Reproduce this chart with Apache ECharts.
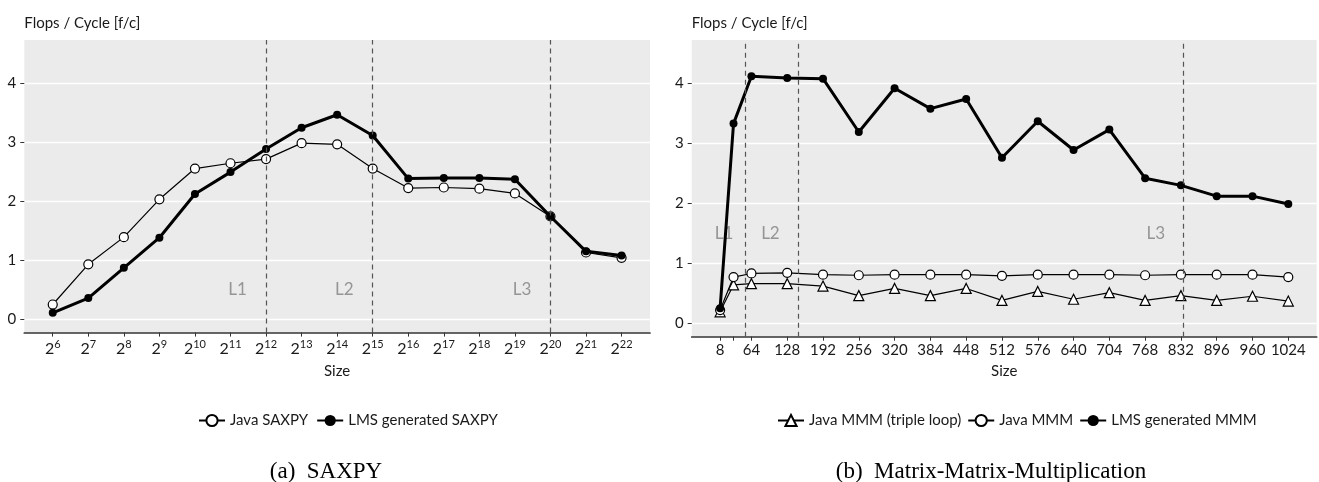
<!DOCTYPE html>
<html>
<head>
<meta charset="utf-8">
<script src="https://cdn.jsdelivr.net/npm/echarts@6/dist/echarts.min.js"></script>
<style>
  html, body { margin: 0; padding: 0; background: #fff; }
  #chart { width: 1319px; height: 482px; }
</style>
</head>
<body>
<div id="chart"></div>
<script>
// SAXPY: sizes are powers of two, stored as exponents
let saxpyExp = [6, 7, 8, 9, 10, 11, 12, 13, 14, 15, 16, 17, 18, 19, 20, 21, 22];
let javaSaxpy = [0.25, 0.93, 1.39, 2.03, 2.55, 2.64, 2.71, 2.98, 2.96, 2.55, 2.22, 2.23, 2.21, 2.13, 1.74, 1.13, 1.04];
let lmsSaxpy = [0.11, 0.36, 0.87, 1.38, 2.12, 2.49, 2.88, 3.24, 3.46, 3.11, 2.38, 2.39, 2.39, 2.37, 1.74, 1.15, 1.08];

// Matrix-Matrix-Multiplication
let mmmSizes = [8, 32, 64, 128, 192, 256, 320, 384, 448, 512, 576, 640, 704, 768, 832, 896, 960, 1024];
let mmmLabels = [8, 64, 128, 192, 256, 320, 384, 448, 512, 576, 640, 704, 768, 832, 896, 960, 1024];
let javaTriple = [0.19, 0.64, 0.66, 0.66, 0.62, 0.46, 0.58, 0.46, 0.58, 0.38, 0.53, 0.40, 0.51, 0.38, 0.46, 0.38, 0.45, 0.37];
let javaMmm = [0.22, 0.77, 0.83, 0.84, 0.81, 0.80, 0.81, 0.81, 0.81, 0.79, 0.81, 0.81, 0.81, 0.80, 0.81, 0.81, 0.81, 0.77];
let lmsMmm = [0.25, 3.33, 4.12, 4.09, 4.08, 3.19, 3.92, 3.58, 3.74, 2.76, 3.37, 2.89, 3.23, 2.42, 2.30, 2.12, 2.12, 1.99];

// cache limits
let cacheNames = ['L1', 'L2', 'L3'];
let saxpyCache = [12, 15, 20];
let saxpyCacheLabelX = [11.2, 14.2, 19.2];
let mmmCache = [52.3, 147.8, 836.1];
let mmmCacheLabelX = [15, 98, 787];

let yTicks = [0, 1, 2, 3, 4];

let font = 'Lato';
let ink = '#1a1a1a';

function pairs(xs, ys) {
    return xs.map((x, i) => [x, ys[i]]);
}

function cacheSeries(idx, lines, labelX, labelY) {
    return {
        type: 'scatter',
        xAxisIndex: idx,
        yAxisIndex: idx,
        symbolSize: 0,
        silent: true,
        z: 1,
        data: cacheNames.map((n, i) => ({ name: n, value: [labelX[i], labelY] })),
        label: {
            show: true,
            position: 'inside',
            formatter: '{b}',
            color: '#808080',
            fontFamily: font,
            fontSize: 17
        },
        markLine: {
            silent: true,
            symbol: ['none', 'none'],
            label: { show: false },
            lineStyle: { type: [5, 4], color: '#555', width: 1.2 },
            data: lines.map(v => ({ xAxis: v }))
        }
    };
}

function openLine(name, idx, data, symbol, size) {
    return {
        name: name,
        type: 'line',
        xAxisIndex: idx,
        yAxisIndex: idx,
        data: data,
        symbol: symbol,
        symbolSize: size,
        showSymbol: true,
        z: 3,
        lineStyle: { color: '#000', width: 1.2 },
        itemStyle: { color: '#fff', borderColor: '#000', borderWidth: 1.2 }
    };
}

function boldLine(name, idx, data) {
    return {
        name: name,
        type: 'line',
        xAxisIndex: idx,
        yAxisIndex: idx,
        data: data,
        symbol: 'circle',
        symbolSize: 8,
        z: 4,
        lineStyle: { color: '#000', width: 3 },
        itemStyle: { color: '#000', borderColor: '#000', borderWidth: 0 }
    };
}

function yAxisFor(idx) {
    return {
        gridIndex: idx,
        type: 'value',
        min: -0.225,
        max: 4.725,
        name: 'Flops / Cycle [f/c]',
        nameLocation: 'end',
        nameGap: 17,
        nameTextStyle: { align: 'left', verticalAlign: 'middle', fontFamily: font, fontSize: 15, color: ink },
        axisLine: { show: false, onZero: false },
        axisTick: { show: true, customValues: yTicks, length: 4, lineStyle: { color: '#333' } },
        axisLabel: { customValues: yTicks, margin: 8, fontFamily: font, fontSize: 15, color: ink },
        splitLine: { show: true, lineStyle: { color: '#fff', width: 1.3 } }
    };
}

let chart = echarts.init(document.getElementById('chart'));

let option = {
    animation: false,
    backgroundColor: '#fff',
    grid: [
        { left: 24.3, right: 669, top: 40, bottom: 149.4, show: true, backgroundColor: '#EBEBEB', borderWidth: 0 },
        { left: 691.7, right: 2.3, top: 40, bottom: 145.3, show: true, backgroundColor: '#EBEBEB', borderWidth: 0 }
    ],
    xAxis: [{
        gridIndex: 0,
        type: 'value',
        min: 5.2,
        max: 22.8,
        name: 'Size',
        nameLocation: 'middle',
        nameGap: 31,
        nameTextStyle: { fontFamily: font, fontSize: 15, color: ink },
        axisLine: { onZero: false, lineStyle: { color: '#333', width: 1.7 } },
        axisTick: { customValues: saxpyExp, length: 4, lineStyle: { color: '#333' } },
        axisLabel: {
            customValues: saxpyExp,
            margin: 6,
            formatter: v => '{b|2}{s|' + v + '}',
            rich: {
                b: { fontFamily: font, fontSize: 16, color: ink },
                s: { fontFamily: font, fontSize: 11, color: ink, padding: [0, 0, 9, 0] }
            }
        },
        splitLine: { show: false }
    }, {
        gridIndex: 1,
        type: 'value',
        min: -42.8,
        max: 1074.8,
        name: 'Size',
        nameLocation: 'middle',
        nameGap: 27,
        nameTextStyle: { fontFamily: font, fontSize: 15, color: ink },
        axisLine: { onZero: false, lineStyle: { color: '#333', width: 1.7 } },
        axisTick: { customValues: mmmSizes, length: 4, lineStyle: { color: '#333' } },
        axisLabel: { customValues: mmmLabels, margin: 6, fontFamily: font, fontSize: 15, color: ink, formatter: v => String(v) },
        splitLine: { show: false }
    }],
    yAxis: [yAxisFor(0), yAxisFor(1)],
    legend: [{
        left: 193,
        top: 408,
        itemWidth: 26,
        itemHeight: 14,
        itemGap: 8,
        textStyle: { fontFamily: font, fontSize: 15, color: ink },
        data: ['Java SAXPY', 'LMS generated SAXPY']
    }, {
        left: 772,
        top: 408,
        itemWidth: 26,
        itemHeight: 14,
        itemGap: 6,
        textStyle: { fontFamily: font, fontSize: 15, color: ink },
        data: ['Java MMM (triple loop)', 'Java MMM', 'LMS generated MMM']
    }],
    graphic: [{
        type: 'text',
        x: 326,
        y: 472,
        style: { text: '(a)  SAXPY', font: '23px "Liberation Serif"', fill: '#000', textAlign: 'center', textVerticalAlign: 'middle' }
    }, {
        type: 'text',
        x: 991,
        y: 472,
        style: { text: '(b)  Matrix-Matrix-Multiplication', font: '23px "Liberation Serif"', fill: '#000', textAlign: 'center', textVerticalAlign: 'middle' }
    }],
    series: [
        cacheSeries(0, saxpyCache, saxpyCacheLabelX, 0.5),
        openLine('Java SAXPY', 0, pairs(saxpyExp, javaSaxpy), 'circle', 9),
        boldLine('LMS generated SAXPY', 0, pairs(saxpyExp, lmsSaxpy)),
        cacheSeries(1, mmmCache, mmmCacheLabelX, 1.5),
        openLine('Java MMM (triple loop)', 1, pairs(mmmSizes, javaTriple), 'triangle', 10),
        openLine('Java MMM', 1, pairs(mmmSizes, javaMmm), 'circle', 9),
        boldLine('LMS generated MMM', 1, pairs(mmmSizes, lmsMmm))
    ]
};

chart.setOption(option);
</script>
</body>
</html>
